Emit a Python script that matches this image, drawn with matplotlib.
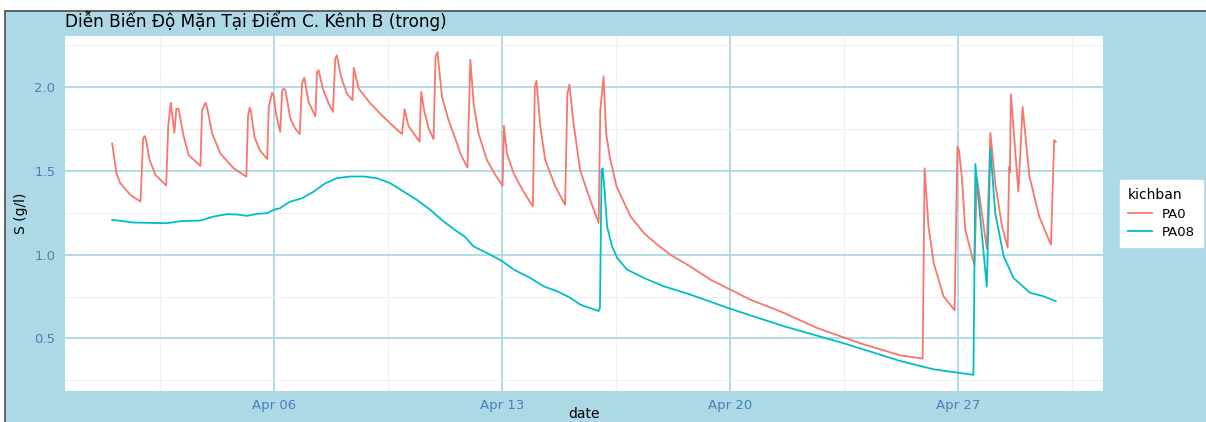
import numpy as np
import pandas as pd
import matplotlib
matplotlib.use("Agg")
import matplotlib.pyplot as plt
import matplotlib.dates as mdates
from matplotlib.patches import Rectangle
from matplotlib.ticker import MultipleLocator, FixedLocator

# ---------------- data (day-of-April, fractional) ----------------
pa0_day = [1.02, 1.15, 1.27, 1.58, 1.89, 1.97, 2.02, 2.06, 2.17, 2.35, 2.68, 2.74, 2.82, 2.93,
           2.99, 3.06, 3.22, 3.37, 3.73, 3.78, 3.89, 3.93, 4.09, 4.34, 4.75, 5.14, 5.19, 5.24,
           5.28, 5.39, 5.55, 5.78, 5.83, 5.93, 5.98, 6.06, 6.18, 6.24, 6.29, 6.34, 6.49, 6.64,
           6.78, 6.85, 6.92, 7.05, 7.26, 7.31, 7.36, 7.49, 7.67, 7.80, 7.87, 7.92, 8.05, 8.23,
           8.40, 8.44, 8.59, 8.95, 9.25, 9.56, 9.92, 10.00, 10.12, 10.46, 10.51, 10.61, 10.74,
           10.89, 10.95, 11.01, 11.15, 11.35, 11.61, 11.71, 11.93, 12.02, 12.12, 12.27, 12.53,
           12.79, 13.01, 13.05, 13.14, 13.35, 13.65, 13.94, 14.00, 14.05, 14.17, 14.32, 14.63,
           14.93, 15.00, 15.06, 15.19, 15.39, 15.70, 15.96, 16.01, 16.11, 16.19, 16.30, 16.51,
           16.94, 17.35, 17.76, 18.16, 18.77, 19.39, 20.00, 20.61, 21.64, 22.66, 24.00, 25.22,
           25.91, 25.97, 26.09, 26.25, 26.55, 26.89, 26.98, 27.03, 27.12, 27.22, 27.50, 27.58,
           27.88, 27.99, 28.14, 28.35, 28.52, 28.57, 28.59, 28.62, 28.85, 28.98, 29.19, 29.49,
           29.85, 29.95, 30.00]
pa0_val = [1.665, 1.486, 1.427, 1.357, 1.317, 1.695, 1.708, 1.685, 1.565, 1.476, 1.413, 1.764,
           1.909, 1.728, 1.873, 1.869, 1.704, 1.595, 1.530, 1.863, 1.907, 1.883, 1.724, 1.605,
           1.516, 1.466, 1.823, 1.877, 1.860, 1.704, 1.625, 1.571, 1.883, 1.968, 1.950, 1.833,
           1.734, 1.982, 1.992, 1.982, 1.813, 1.754, 1.720, 2.022, 2.058, 1.913, 1.827, 2.091,
           2.101, 1.992, 1.903, 1.853, 2.171, 2.190, 2.062, 1.962, 1.923, 2.117, 1.992, 1.903,
           1.843, 1.784, 1.720, 1.869, 1.768, 1.675, 1.972, 1.853, 1.754, 1.690, 2.180, 2.210,
           1.942, 1.804, 1.665, 1.605, 1.520, 2.165, 1.903, 1.724, 1.565, 1.476, 1.411, 1.770,
           1.605, 1.486, 1.377, 1.288, 2.002, 2.038, 1.764, 1.565, 1.407, 1.298, 1.962, 2.016,
           1.784, 1.506, 1.327, 1.189, 1.863, 2.065, 1.726, 1.585, 1.407, 1.228, 1.129, 1.060,
           1.000, 0.930, 0.851, 0.792, 0.732, 0.653, 0.563, 0.470, 0.399, 0.379, 1.516, 1.168,
           0.950, 0.752, 0.668, 1.645, 1.620, 1.446, 1.149, 0.936, 1.457, 1.036, 1.728, 1.427,
           1.168, 1.043, 1.526, 1.490, 1.958, 1.377, 1.883, 1.467, 1.228, 1.060, 1.685, 1.675]

pa08_day = [1.02, 1.68, 2.70, 3.11, 3.73, 4.14, 4.55, 4.85, 5.16, 5.47, 5.78, 5.98, 6.18, 6.34,
            6.49, 6.85, 7.21, 7.57, 7.92, 8.33, 8.74, 9.15, 9.56, 9.97, 10.38, 10.79, 11.20,
            11.61, 11.84, 12.12, 12.53, 13.01, 13.35, 13.86, 14.27, 14.68, 15.09, 15.39, 15.96,
            16.00, 16.05, 16.08, 16.14, 16.22, 16.37, 16.53, 16.83, 17.35, 17.96, 18.77, 20.00,
            21.64, 23.50, 25.22, 26.25, 27.47, 27.53, 27.60, 27.88, 27.99, 28.14, 28.40, 28.70,
            29.21, 29.62, 30.00]
pa08_val = [1.208, 1.192, 1.188, 1.200, 1.204, 1.228, 1.242, 1.240, 1.232, 1.244, 1.248, 1.268,
            1.278, 1.300, 1.317, 1.337, 1.377, 1.427, 1.457, 1.467, 1.467, 1.457, 1.427, 1.377,
            1.327, 1.268, 1.198, 1.139, 1.109, 1.049, 1.010, 0.960, 0.911, 0.861, 0.811, 0.782,
            0.742, 0.702, 0.663, 0.683, 1.506, 1.516, 1.387, 1.168, 1.050, 0.980, 0.911, 0.861,
            0.811, 0.762, 0.677, 0.573, 0.470, 0.365, 0.315, 0.282, 1.542, 1.387, 0.808, 1.635,
            1.248, 0.990, 0.861, 0.772, 0.752, 0.722]

series_names = ["PA0", "PA08"]
series_colors = ["#F8766D", "#00BFC4"]
x_tick_days = [6, 13, 20, 27]

title_text = "Diễn Biến Độ Mặn Tại Điểm C. Kênh B (trong)"
y_label = "S (g/l)"
x_label = "date"
legend_title = "kichban"

# ---------------- helpers ----------------
base = pd.Timestamp("2024-03-31")


def to_dates(days):
    return base + pd.to_timedelta(np.asarray(days, dtype=float), unit="D")


plt.rcParams["font.family"] = ["DejaVu Sans"]

W, H = 1206, 422
fig = plt.figure(figsize=(W / 100, H / 100), dpi=100, facecolor="white")

# background frame (light blue with dark border on top/left)
bg = Rectangle((5 / W, -0.1), 1.2, (H - 11) / H + 0.1, transform=fig.transFigure,
               facecolor="#ADD8E6", edgecolor="#4a4a4a", linewidth=1.2, zorder=-5)
fig.patches.append(bg)

ax = fig.add_axes([65 / W, 1 - 391 / H, (1103 - 65) / W, (391 - 36) / H])
ax.set_facecolor("white")
for s in ax.spines.values():
    s.set_visible(False)

for name, col, d, v in [(series_names[0], series_colors[0], pa0_day, pa0_val),
                        (series_names[1], series_colors[1], pa08_day, pa08_val)]:
    ax.plot(to_dates(d), v, color=col, lw=1.3, label=name, zorder=3)

ax.margins(x=0.05, y=0.05)

# axes ticks
ax.xaxis.set_major_locator(mdates.DayLocator(bymonthday=x_tick_days))
ax.xaxis.set_major_formatter(mdates.DateFormatter("%b %d"))
ax.xaxis.set_minor_locator(FixedLocator(
    [mdates.date2num(base + pd.Timedelta(days=d - 3.5)) for d in x_tick_days + [34]]))
ax.yaxis.set_major_locator(MultipleLocator(0.5))
ax.yaxis.set_minor_locator(MultipleLocator(0.25))

ax.grid(which="major", color="#ADD8E6", lw=1.3, zorder=1)
ax.grid(which="minor", color="#F0F0F0", lw=0.8, zorder=0.5)
ax.set_axisbelow(True)

tick_col = "#4682B4"
ax.tick_params(which="both", length=0)
ax.tick_params(axis="y", labelsize=9.5, colors=tick_col, pad=7)
ax.tick_params(axis="x", labelsize=9.5, colors=tick_col, pad=6)

ax.set_ylabel(y_label, fontsize=10, color="black")
ax.yaxis.set_label_coords((28 - 65) / (1103 - 65), 0.5)
ax.set_xlabel(x_label, fontsize=10, color="black")
ax.xaxis.set_label_coords(0.5, -(407 - 391) / (391 - 36))

fig.text(65 / W, 1 - 27 / H, title_text, fontsize=12.2, color="black",
         ha="left", va="baseline")

leg = ax.legend(title=legend_title, loc="center left",
                bbox_to_anchor=(1120 / W, 1 - 213.5 / H), bbox_transform=fig.transFigure,
                frameon=True, fancybox=False, framealpha=1.0, fontsize=9.5,
                title_fontsize=10, handlelength=1.8, borderaxespad=0, borderpad=0.6,
                labelspacing=0.4, alignment="left")
leg.get_frame().set_facecolor("white")
leg.get_frame().set_edgecolor("white")

fig.savefig("out.png", dpi=100, facecolor="white")
